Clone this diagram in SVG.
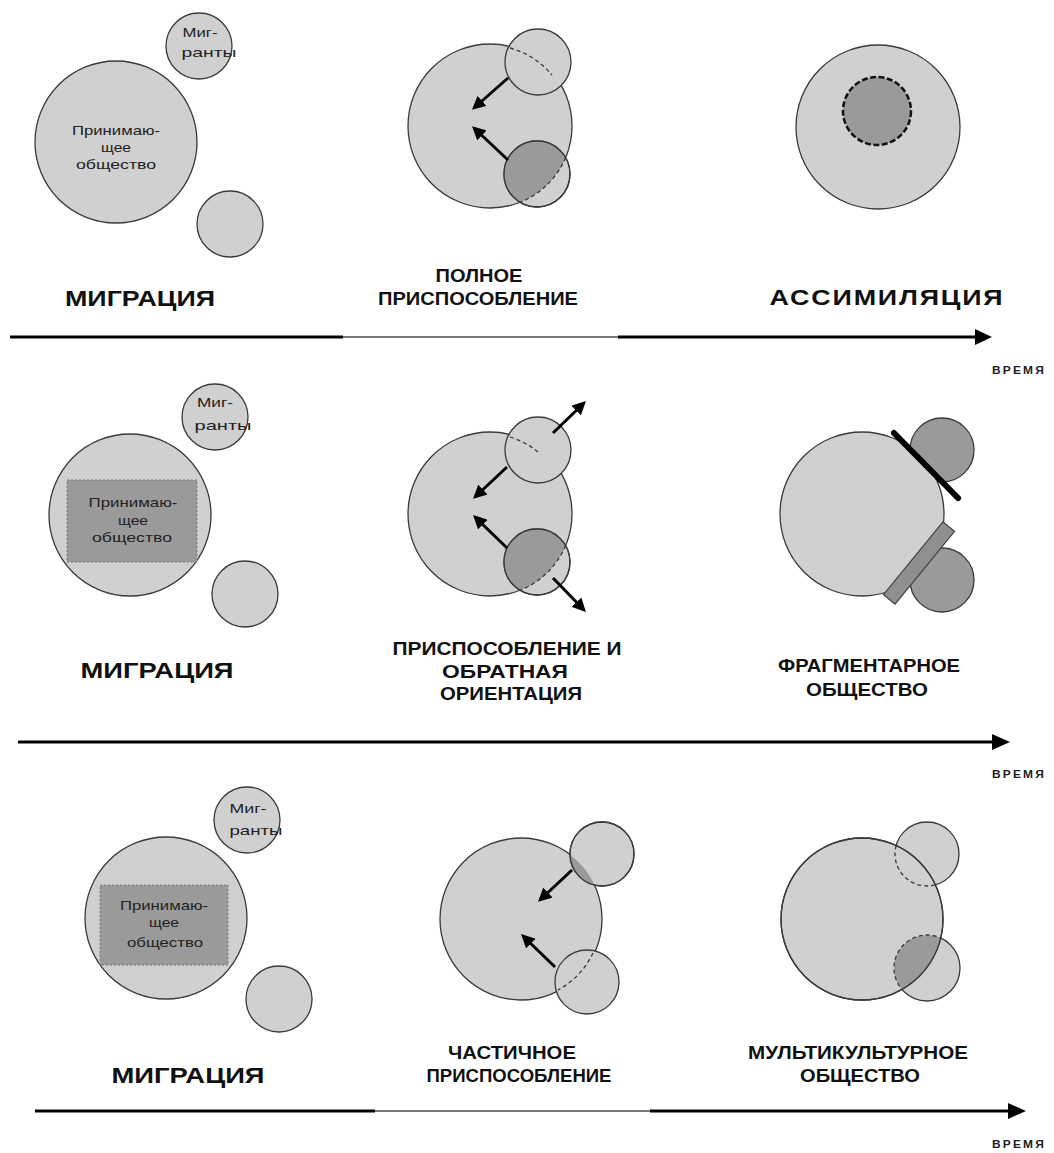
<svg xmlns="http://www.w3.org/2000/svg" width="1054" height="1153" viewBox="0 0 1054 1153">
<style>
.lt{fill:#d0d0d0;stroke:#3a3a3a;stroke-width:1.3}
.dk{fill:#9a9a9a;stroke:none}
.dkc{fill:#9a9a9a;stroke:#3a3a3a;stroke-width:1.3}
.ol{fill:none;stroke:#3a3a3a;stroke-width:1.3}
.da{fill:none;stroke:#3a3a3a;stroke-width:1.3;stroke-dasharray:4 3}
.ar{stroke:#000;stroke-width:3;fill:none;marker-end:url(#ah)}
.sm{font-family:"Liberation Sans",Arial,sans-serif;font-size:13px;fill:#222;text-anchor:middle}
.lb{font-family:"Liberation Sans",Arial,sans-serif;font-weight:bold;fill:#111;text-anchor:middle}
.tm{font-family:"Liberation Sans",Arial,sans-serif;font-weight:bold;font-size:11px;fill:#222}
.ax{stroke:#000;stroke-width:3}
.axg{stroke:#7a7a7a;stroke-width:2}
</style>
<defs>
<marker id="ah" viewBox="0 0 10 10" refX="8" refY="5" markerWidth="4.5" markerHeight="4.5" orient="auto" markerUnits="strokeWidth">
<path d="M0,0 L10,5 L0,10 z" fill="#000"/>
</marker>
<clipPath id="cTM"><circle cx="490" cy="126" r="82"/></clipPath>
<clipPath id="cMM"><circle cx="490" cy="514" r="82"/></clipPath>
<clipPath id="cBM"><circle cx="521" cy="919" r="81"/></clipPath>
<clipPath id="cBR"><circle cx="862" cy="919" r="81"/></clipPath>
</defs>

<g id="connectors">
<line class="ax" x1="10" y1="337" x2="343" y2="337"/>
<line class="axg" x1="343" y1="337" x2="618" y2="337"/>
<line class="ax" x1="618" y1="337" x2="978" y2="337"/>
<path d="M975,329 L992,337 L975,345 z" fill="#000"/>
<line class="ax" x1="18" y1="742" x2="995" y2="742"/>
<path d="M992,734 L1010,742 L992,750 z" fill="#000"/>
<line class="ax" x1="35" y1="1111" x2="375" y2="1111"/>
<line class="axg" x1="375" y1="1111" x2="650" y2="1111"/>
<line class="ax" x1="650" y1="1111" x2="1010" y2="1111"/>
<path d="M1008,1103 L1026,1111 L1008,1119 z" fill="#000"/>
</g>

<!-- Row 1 -->
<g id="r1-left">
<circle class="lt" cx="116" cy="142" r="81"/>
<circle class="lt" cx="199" cy="46" r="33"/>
<circle class="lt" cx="230" cy="224" r="33"/>
<text class="sm" x="116" y="135" textLength="88" lengthAdjust="spacingAndGlyphs">Принимаю-</text>
<text class="sm" x="116" y="152" textLength="30" lengthAdjust="spacingAndGlyphs">щее</text>
<text class="sm" x="116" y="169" textLength="80" lengthAdjust="spacingAndGlyphs">общество</text>
<text class="sm" x="200" y="37" textLength="35" lengthAdjust="spacingAndGlyphs">Миг-</text>
<text class="sm" x="209" y="57" textLength="55" lengthAdjust="spacingAndGlyphs">ранты</text>
</g>
<g id="r1-mid">
<circle class="lt" cx="490" cy="126" r="82"/>
<circle class="lt" cx="538" cy="62" r="33"/>
<path class="da" d="M510,48 A82,82 0 0 1 552,75"/>
<circle class="lt" cx="537" cy="174" r="33"/>
<circle class="dk" cx="537" cy="174" r="33" clip-path="url(#cTM)"/>
<circle class="ol" cx="537" cy="174" r="33"/>
<path class="da" d="M565.6,157.5 A82,82 0 0 1 520,202.3"/>
<line class="ar" x1="508" y1="78" x2="474" y2="108"/>
<line class="ar" x1="508" y1="160" x2="474" y2="128"/>
</g>
<g id="r1-right">
<circle class="lt" cx="878" cy="127" r="82"/>
<circle cx="877" cy="111" r="34" fill="#9a9a9a" stroke="#111" stroke-width="2.5" stroke-dasharray="6 2.5"/>
</g>
<g id="r1-labels">
<text class="lb" x="140" y="306" font-size="22" textLength="150" lengthAdjust="spacingAndGlyphs">МИГРАЦИЯ</text>
<text class="lb" x="479" y="282" font-size="18" textLength="87" lengthAdjust="spacingAndGlyphs">ПОЛНОЕ</text>
<text class="lb" x="478" y="305" font-size="18" textLength="200" lengthAdjust="spacingAndGlyphs">ПРИСПОСОБЛЕНИЕ</text>
<text class="lb" x="887" y="305" font-size="22" letter-spacing="1.5" textLength="235" lengthAdjust="spacingAndGlyphs">АССИМИЛЯЦИЯ</text>
<text class="tm" x="992" y="374" letter-spacing="2" textLength="54" lengthAdjust="spacingAndGlyphs">ВРЕМЯ</text>
</g>

<!-- Row 2 -->
<g id="r2-left">
<circle class="lt" cx="130" cy="515" r="81"/>
<rect x="67" y="480" width="130" height="82" fill="#9a9a9a" stroke="#777" stroke-width="1" stroke-dasharray="2 2"/>
<circle class="lt" cx="215" cy="417" r="33"/>
<circle class="lt" cx="245" cy="594" r="33"/>
<text class="sm" x="133" y="507" textLength="89" lengthAdjust="spacingAndGlyphs">Принимаю-</text>
<text class="sm" x="133" y="525" textLength="30" lengthAdjust="spacingAndGlyphs">щее</text>
<text class="sm" x="132" y="542" textLength="80" lengthAdjust="spacingAndGlyphs">общество</text>
<text class="sm" x="215" y="407" textLength="36" lengthAdjust="spacingAndGlyphs">Миг-</text>
<text class="sm" x="223" y="430" textLength="57" lengthAdjust="spacingAndGlyphs">ранты</text>
</g>
<g id="r2-mid">
<circle class="lt" cx="490" cy="514" r="82"/>
<circle class="lt" cx="538" cy="450" r="33"/>
<path class="da" d="M510,437 A82,82 0 0 1 538,452"/>
<circle class="lt" cx="537" cy="562" r="33"/>
<circle class="dk" cx="537" cy="562" r="33" clip-path="url(#cMM)"/>
<circle class="ol" cx="537" cy="562" r="33"/>
<path class="da" d="M565.6,545.5 A82,82 0 0 1 520,590.3"/>
<line class="ar" x1="553" y1="433" x2="584" y2="403"/>
<line class="ar" x1="507" y1="467" x2="475" y2="497"/>
<line class="ar" x1="507" y1="548" x2="475" y2="517"/>
<line class="ar" x1="553" y1="578" x2="584" y2="610"/>
</g>
<g id="r2-right">
<circle class="dkc" cx="942" cy="450" r="32"/>
<circle class="dkc" cx="942" cy="580" r="32"/>
<circle class="lt" cx="862" cy="514" r="82"/>
<line x1="894" y1="433" x2="958" y2="498" stroke="#000" stroke-width="6" stroke-linecap="round"/>
<rect x="-47" y="-7.5" width="94" height="15" transform="translate(919,563) rotate(-50.7)" fill="#8f8f8f" stroke="#444" stroke-width="1.2"/>
</g>
<g id="r2-labels">
<text class="lb" x="157" y="678" font-size="22" textLength="153" lengthAdjust="spacingAndGlyphs">МИГРАЦИЯ</text>
<text class="lb" x="507" y="655" font-size="19" textLength="229" lengthAdjust="spacingAndGlyphs">ПРИСПОСОБЛЕНИЕ И</text>
<text class="lb" x="505" y="678" font-size="19" textLength="126" lengthAdjust="spacingAndGlyphs">ОБРАТНАЯ</text>
<text class="lb" x="511" y="700" font-size="19" textLength="142" lengthAdjust="spacingAndGlyphs">ОРИЕНТАЦИЯ</text>
<text class="lb" x="869" y="672" font-size="18" textLength="182" lengthAdjust="spacingAndGlyphs">ФРАГМЕНТАРНОЕ</text>
<text class="lb" x="867" y="696" font-size="18" textLength="122" lengthAdjust="spacingAndGlyphs">ОБЩЕСТВО</text>
<text class="tm" x="992" y="778" letter-spacing="2" textLength="54" lengthAdjust="spacingAndGlyphs">ВРЕМЯ</text>
</g>

<!-- Row 3 -->
<g id="r3-left">
<circle class="lt" cx="166" cy="918" r="81"/>
<rect x="100" y="885" width="128" height="80" fill="#9a9a9a" stroke="#777" stroke-width="1" stroke-dasharray="2 2"/>
<circle class="lt" cx="247" cy="820" r="33"/>
<circle class="lt" cx="279" cy="999" r="33"/>
<text class="sm" x="164" y="910" textLength="88" lengthAdjust="spacingAndGlyphs">Принимаю-</text>
<text class="sm" x="164" y="927" textLength="30" lengthAdjust="spacingAndGlyphs">щее</text>
<text class="sm" x="165" y="947" textLength="76" lengthAdjust="spacingAndGlyphs">общество</text>
<text class="sm" x="248" y="813" textLength="37" lengthAdjust="spacingAndGlyphs">Миг-</text>
<text class="sm" x="256" y="835" textLength="53" lengthAdjust="spacingAndGlyphs">ранты</text>
</g>
<g id="r3-mid">
<circle class="lt" cx="521" cy="919" r="81"/>
<circle class="lt" cx="602" cy="854" r="32"/>
<circle class="dk" cx="602" cy="854" r="32" clip-path="url(#cBM)"/>
<circle class="ol" cx="602" cy="854" r="32"/>
<circle class="lt" cx="587" cy="982" r="32"/>
<path class="da" d="M593,953 A81,81 0 0 1 558,990"/>
<line class="ar" x1="572" y1="870" x2="540" y2="900"/>
<line class="ar" x1="555" y1="967" x2="523" y2="936"/>
</g>
<g id="r3-right">
<circle class="lt" cx="927" cy="854" r="32"/>
<circle class="lt" cx="927" cy="968" r="33"/>
<circle class="lt" cx="862" cy="919" r="81"/>
<circle class="dk" cx="927" cy="968" r="33" clip-path="url(#cBR)"/>
<circle class="da" cx="927" cy="854" r="32" clip-path="url(#cBR)"/>
<circle class="da" cx="927" cy="968" r="33" clip-path="url(#cBR)"/>
<circle class="ol" cx="862" cy="919" r="81"/>
</g>
<g id="r3-labels">
<text class="lb" x="188" y="1083" font-size="22" textLength="153" lengthAdjust="spacingAndGlyphs">МИГРАЦИЯ</text>
<text class="lb" x="512" y="1059" font-size="18" textLength="128" lengthAdjust="spacingAndGlyphs">ЧАСТИЧНОЕ</text>
<text class="lb" x="519" y="1082" font-size="18" textLength="185" lengthAdjust="spacingAndGlyphs">ПРИСПОСОБЛЕНИЕ</text>
<text class="lb" x="858" y="1059" font-size="18" textLength="220" lengthAdjust="spacingAndGlyphs">МУЛЬТИКУЛЬТУРНОЕ</text>
<text class="lb" x="860" y="1082" font-size="18" textLength="120" lengthAdjust="spacingAndGlyphs">ОБЩЕСТВО</text>
<text class="tm" x="992" y="1148" letter-spacing="2" textLength="54" lengthAdjust="spacingAndGlyphs">ВРЕМЯ</text>
</g>
</svg>
